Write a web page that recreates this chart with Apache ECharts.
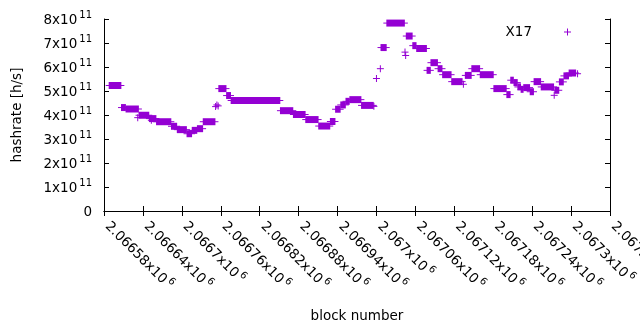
<!DOCTYPE html>
<html>
<head>
<meta charset="utf-8">
<title>hashrate</title>
<script src="https://cdn.jsdelivr.net/npm/echarts@6/dist/echarts.min.js"></script>
<style>
  html, body { margin: 0; background: #fff; }
  #chart { width: 640px; height: 330px; }
</style>
</head>
<body>
<div id="chart"></div>
<script>
const seriesName = 'X17';

// runs of consecutive blocks that share one hashrate value (value in 1e11 h/s)
const runStart = [
  2066588, 2066607, 2066614, 2066632, 2066634, 2066650, 2066653, 2066661, 2066684, 2066693,
  2066708, 2066716, 2066724, 2066733, 2066752, 2066754, 2066756, 2066757, 2066769, 2066776,
  2066852, 2066872, 2066891, 2066911, 2066929, 2066937, 2066945, 2066953, 2066959, 2066977,
  2066996, 2067000, 2067006, 2067007, 2067016, 2067044, 2067045, 2067046, 2067056, 2067062,
  2067078, 2067084, 2067095, 2067102, 2067116, 2067134, 2067137, 2067147, 2067160, 2067181,
  2067201, 2067207, 2067212, 2067218, 2067223, 2067227, 2067237, 2067243, 2067254, 2067274,
  2067275, 2067282, 2067289, 2067297, 2067310
];
const runEnd = [
  2066606, 2066613, 2066633, 2066632, 2066649, 2066660, 2066653, 2066683, 2066692, 2066707,
  2066715, 2066723, 2066732, 2066751, 2066752, 2066754, 2066756, 2066768, 2066775, 2066851,
  2066871, 2066890, 2066910, 2066928, 2066936, 2066944, 2066952, 2066958, 2066976, 2066995,
  2066996, 2067000, 2067006, 2067015, 2067043, 2067044, 2067045, 2067055, 2067061, 2067077,
  2067083, 2067094, 2067101, 2067115, 2067132, 2067134, 2067146, 2067159, 2067180, 2067200,
  2067206, 2067211, 2067217, 2067222, 2067226, 2067236, 2067242, 2067253, 2067273, 2067274,
  2067281, 2067288, 2067296, 2067307, 2067310
];
const runValue = [
  5.23, 4.31, 4.25, 3.89, 3.99, 3.85, 3.78, 3.72, 3.53, 3.39,
  3.22, 3.36, 3.43, 3.72, 4.35, 4.42, 4.38, 5.10, 4.81, 4.60,
  4.18, 4.02, 3.81, 3.54, 3.73, 4.24, 4.42, 4.57, 4.64, 4.40,
  4.36, 5.52, 5.93, 6.81, 7.83, 6.62, 6.48, 7.29, 6.89, 6.77,
  5.86, 6.18, 5.93, 5.68, 5.39, 5.28, 5.65, 5.93, 5.68, 5.10,
  4.85, 5.45, 5.35, 5.17, 5.07, 5.14, 4.97, 5.39, 5.17, 4.82,
  5.03, 5.38, 5.63, 5.75, 5.72
];

const font = 'DejaVu Sans';
const purple = '#9400D3';

const runs = runStart.map((s, i) => [s, runEnd[i], runValue[i] * 1e11]);

const rich = {
  m: { fontFamily: font, fontSize: 13.5, color: '#000', lineHeight: 17, verticalAlign: 'bottom' },
  mx: { fontFamily: font, fontSize: 13.5, color: '#000', lineHeight: 17, verticalAlign: 'bottom', padding: [0, 0, 0, 6] },
  e: { fontFamily: font, fontSize: 10, color: '#000', lineHeight: 11, verticalAlign: 'top', padding: [0, 0, 0, 2] }
};

function yLabel(v) {
  if (v === 0) return '{m|0}';
  return '{m|' + Math.round(v / 1e11) + 'x10}{e|11}';
}
function xLabel(v) {
  return '{mx|' + parseFloat((v / 1e6).toPrecision(7)) + 'x10}{e|6}';
}

const xRange = { min: 2066580, max: 2067360, interval: 60 };
const yRange = { min: 0, max: 8e11, interval: 1e11 };
const line = { lineStyle: { color: '#000', width: 1 } };
const tick = { inside: true, length: 5, lineStyle: { color: '#000' } };

// a "+" per block: many overlapping plus marks become a bar with a vertical band
function renderRun(params, api) {
  const a = api.coord([api.value(0), api.value(2)]);
  const b = api.coord([api.value(1), api.value(2)]);
  const color = api.visual('color');
  return {
    type: 'group',
    children: [
      { type: 'rect', shape: { x: a[0] - 0.5, y: a[1] - 3.5, width: b[0] - a[0] + 1, height: 7 }, style: { fill: color } },
      { type: 'rect', shape: { x: a[0] - 3.5, y: a[1] - 0.5, width: b[0] - a[0] + 7, height: 1 }, style: { fill: color } }
    ]
  };
}

const chart = echarts.init(document.getElementById('chart'), null, { renderer: 'canvas' });
chart.setOption({
  animation: false,
  backgroundColor: '#fff',
  grid: { left: 104, right: 30, top: 19, bottom: 119, containLabel: false, outerBoundsMode: 'none' },
  legend: {
    right: 64,
    top: 20,
    align: 'right',
    itemWidth: 34,
    itemHeight: 7,
    // plus sign at the right end of the icon box, to leave a gap after the text
    data: [{ name: seriesName, icon: 'path://M0,3H0.01V3.01H0Z M27,3H34V4H27Z M30,0H31V7H30Z' }],
    textStyle: { fontFamily: font, fontSize: 13.5, color: '#000' }
  },
  xAxis: [
    {
      type: 'value', ...xRange,
      name: 'block number', nameLocation: 'middle', nameGap: 98,
      nameTextStyle: { fontFamily: font, fontSize: 13.5, color: '#000' },
      axisLine: line, axisTick: tick, splitLine: { show: false },
      axisLabel: { rotate: -45, margin: 8, formatter: xLabel, rich: rich, showMaxLabel: true, hideOverlap: false }
    },
    {
      type: 'value', position: 'top', ...xRange,
      axisLine: line, axisTick: tick, splitLine: { show: false }, axisLabel: { show: false }
    }
  ],
  yAxis: [
    {
      type: 'value', ...yRange,
      name: 'hashrate [h/s]', nameLocation: 'middle', nameGap: 80, nameRotate: 90,
      nameTextStyle: { fontFamily: font, fontSize: 13.5, color: '#000' },
      axisLine: line, axisTick: tick, splitLine: { show: false },
      axisLabel: { margin: 12, formatter: yLabel, rich: rich }
    },
    {
      type: 'value', position: 'right', ...yRange,
      axisLine: line, axisTick: tick, splitLine: { show: false }, axisLabel: { show: false }
    }
  ],
  series: [
    {
      name: seriesName,
      type: 'custom',
      itemStyle: { color: purple },
      encode: { x: [0, 1], y: 2 },
      renderItem: renderRun,
      data: runs
    }
  ]
});
</script>
</body>
</html>
